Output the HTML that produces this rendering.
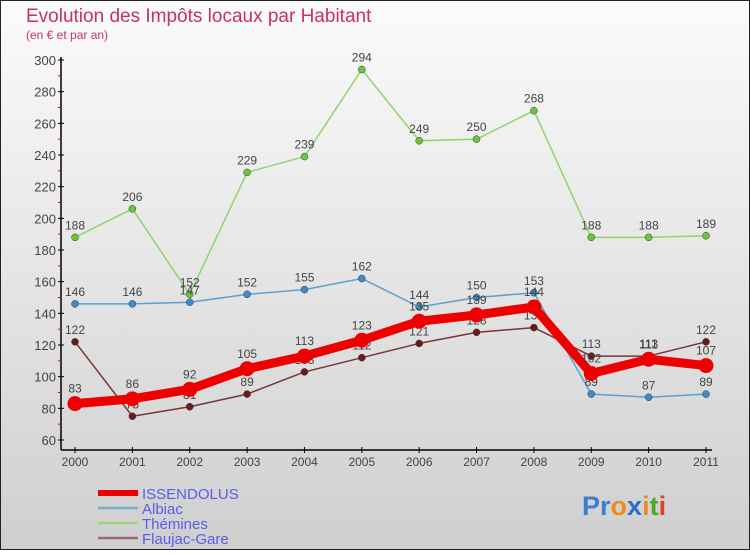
<!DOCTYPE html>
<html><head><meta charset="utf-8"><style>
html,body{margin:0;padding:0}
body{width:750px;height:550px;overflow:hidden;font-family:"Liberation Sans",sans-serif}
svg text{font-family:"Liberation Sans",sans-serif}
</style></head><body>
<svg id="chart" width="750" height="550" xmlns="http://www.w3.org/2000/svg">
<defs><linearGradient id="bg" x1="0" y1="0" x2="0" y2="1"><stop offset="0" stop-color="#fbfbfb"/><stop offset="1" stop-color="#cfcfcf"/></linearGradient></defs>
<rect x="0.5" y="0.5" width="749" height="549" fill="url(#bg)" stroke="#222"/>
<text x="26" y="22" font-size="19" fill="#c8325f">Evolution des Impôts locaux par Habitant</text>
<text x="26" y="39" font-size="12" fill="#c8325f">(en € et par an)</text>
<g id="axes"></g><g id="series"></g><g id="legend"></g>
<text x="582" y="515" font-size="27" font-weight="bold"><tspan fill="#3a7fd0">Pr</tspan><tspan fill="#f08a1c">o</tspan><tspan fill="#2a6fd0">x</tspan><tspan fill="#f08a1c">i</tspan><tspan fill="#4caa2a">t</tspan><tspan fill="#e0402a">i</tspan></text>
</svg>
<script>
const years=["2000","2001","2002","2003","2004","2005","2006","2007","2008","2009","2010","2011"];
const yTicks=[60,80,100,120,140,160,180,200,220,240,260,280,300];
const issendolus=[83,86,92,105,113,123,135,139,144,102,111,107];
const albiac=[146,146,147,152,155,162,144,150,153,89,87,89];
const themines=[188,206,152,229,239,294,249,250,268,188,188,189];
const flaujac=[122,75,81,89,103,112,121,128,131,113,113,122];
const seriesNames=["ISSENDOLUS","Albiac","Thémines","Flaujac-Gare"];
const NS="http://www.w3.org/2000/svg";
const X=i=>75+i*(706-75)/11;
const Y=v=>440-(v-60)*380/240;
function mk(tag,attrs,parent){const e=document.createElementNS(NS,tag);for(const k in attrs)e.setAttribute(k,attrs[k]);parent.appendChild(e);return e;}
const ax=document.getElementById('axes');
let yl=mk('line',{x1:61,y1:57,x2:61,y2:450,stroke:'#000','stroke-width':1.5},ax);


let xl=mk('line',{x1:61,y1:450,x2:712,y2:450,stroke:'#000','stroke-width':1.5},ax);


yTicks.forEach((t,i)=>{
  mk('line',{x1:58,y1:Y(t),x2:64,y2:Y(t),stroke:'#000'},ax);
  if(i<yTicks.length-1) mk('line',{x1:58,y1:Y(t+10),x2:61,y2:Y(t+10),stroke:'#e00'},ax);
  const tx=mk('text',{x:56,y:Y(t)+5,'font-size':13,'text-anchor':'end',fill:'#444'},ax);
  tx.textContent=t;
  
  
});
years.forEach((y,i)=>{
  mk('line',{x1:X(i),y1:447,x2:X(i),y2:453,stroke:'#000'},ax);
  const tx=mk('text',{x:X(i),y:466,'font-size':12,'text-anchor':'middle',fill:'#444'},ax);
  tx.textContent=y;
  
  
});
const sg=document.getElementById('series');
const defs=[
 {d:themines,c:'#8fd66a',dot:'#6cc63c',w:1.5,r:3.5,n:'themines'},
 {d:albiac,c:'#5aa0d0',dot:'#3a8ccc',w:1.5,r:3.5,n:'albiac'},
 {d:flaujac,c:'#7a3535',dot:'#6a1a1a',w:1.5,r:3.5,n:'flaujac-gare'},
 {d:issendolus,c:'#ee0000',dot:'#ee0000',w:9,r:7.5,n:'issendolus'}];
defs.forEach(s=>{
  const g=mk('g',{},sg);
  
  
  const pl=mk('polyline',{points:s.d.map((v,i)=>X(i)+','+Y(v)).join(' '),fill:'none',stroke:s.c,'stroke-width':s.w,'stroke-linejoin':'round'},g);
  
  
  s.d.forEach((v,i)=>{
    const c=mk('circle',{cx:X(i),cy:Y(v),r:s.r,fill:s.dot,stroke:s.w>2?'none':'#333','stroke-width':0.5},g);
    
    
    const t=mk('text',{x:X(i),y:Y(v)-(s.w>2?11:8),'font-size':12,'text-anchor':'middle',fill:'#444'},g);
    t.textContent=v;
    
    
  });
});
const lg=document.getElementById('legend');
const lc=['#ee0000','#7aaed0','#9ad67a','#9a6a6a'],lw=[6,2.5,2.5,2.5];
seriesNames.forEach((n,i)=>{
  const yy=493+i*15;
  mk('line',{x1:98,y1:yy,x2:138,y2:yy,stroke:lc[i],'stroke-width':lw[i]},lg);
  const t=mk('text',{x:142,y:yy+6,'font-size':15,fill:'#5a5aee'},lg);
  t.textContent=n;
  
  
});
</script>
</body></html>
